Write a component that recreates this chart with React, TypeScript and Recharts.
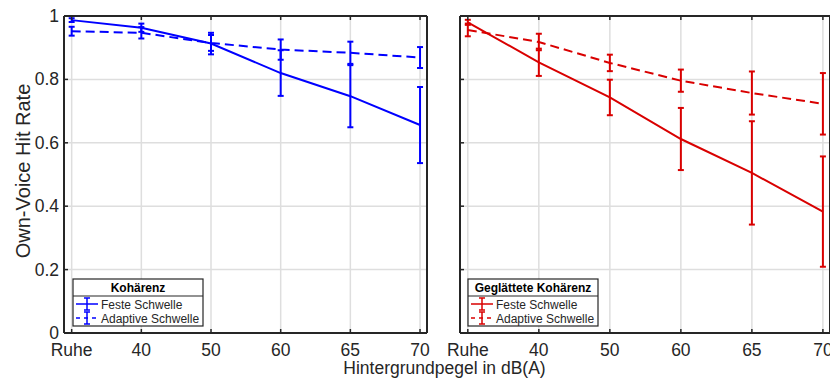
import { LineChart, Line, XAxis, YAxis, CartesianGrid, ErrorBar } from 'recharts';

// x categories and y ticks
const categories = ['Ruhe', '40', '50', '60', '65', '70'];
const yTicks = [0, 0.2, 0.4, 0.6, 0.8, 1];

// Kohärenz (left panel)
const kohFest = [0.987, 0.963, 0.913, 0.82, 0.747, 0.656];
const kohFestErr = [0.006, 0.013, 0.034, 0.072, 0.098, 0.12];
const kohAdapt = [0.952, 0.947, 0.915, 0.894, 0.884, 0.869];
const kohAdaptErr = [0.014, 0.018, 0.025, 0.032, 0.035, 0.033];

// Geglättete Kohärenz (right panel)
const glFest = [0.98, 0.854, 0.743, 0.612, 0.505, 0.383];
const glFestErr = [0.008, 0.043, 0.056, 0.098, 0.163, 0.174];
const glAdapt = [0.956, 0.918, 0.852, 0.796, 0.757, 0.723];
const glAdaptErr = [0.02, 0.026, 0.026, 0.035, 0.068, 0.097];

const seriesNames = ['Feste Schwelle', 'Adaptive Schwelle'];

const AXIS = '#262626';
const GRID = '#dedede';
const BLUE = '#0000ff';
const RED = '#d90000';
const FONT = '"Liberation Sans", Arial, Helvetica, sans-serif';
const X_DOMAIN = [-0.11, 5.1];

const kohData = categories.map((c, i) => ({
  x: i,
  fest: kohFest[i],
  festErr: kohFestErr[i],
  adapt: kohAdapt[i],
  adaptErr: kohAdaptErr[i],
}));

const glData = categories.map((c, i) => ({
  x: i,
  fest: glFest[i],
  festErr: glFestErr[i],
  adapt: glAdapt[i],
  adaptErr: glAdaptErr[i],
}));

function BottomTick(props: any) {
  const { x, y, payload } = props;
  return (
    <g>
      <line x1={x} y1={y} x2={x} y2={y - 4} stroke={AXIS} strokeWidth={1.5} />
      <text x={x} y={y + 22.5} textAnchor="middle" fontSize={17.5} fontFamily={FONT} fill={AXIS}>
        {categories[payload.value]}
      </text>
    </g>
  );
}

function TopTick(props: any) {
  const { x, y } = props;
  return <line x1={x} y1={y} x2={x} y2={y + 4} stroke={AXIS} strokeWidth={1.5} />;
}

function LeftTick(props: any) {
  const { x, y, payload, showLabel } = props;
  const v = payload.value;
  return (
    <g>
      <line x1={x} y1={y} x2={x + 4} y2={y} stroke={AXIS} strokeWidth={1.5} />
      {showLabel && (
        <text x={x - 5} y={y + 6} textAnchor="end" fontSize={17.5} fontFamily={FONT} fill={AXIS}>
          {String(v)}
        </text>
      )}
    </g>
  );
}

function RightTick(props: any) {
  const { x, y } = props;
  return <line x1={x} y1={y} x2={x - 4} y2={y} stroke={AXIS} strokeWidth={1.5} />;
}

function Panel({ data, color, width, yAxisWidth, right, showLabels }: any) {
  return (
    <LineChart
      width={width}
      height={382}
      data={data}
      margin={{ top: 6, right, bottom: 19, left: 0 }}
    >
      <CartesianGrid stroke={GRID} strokeWidth={1.5} />
      <XAxis
        dataKey="x"
        type="number"
        domain={X_DOMAIN}
        ticks={[0, 1, 2, 3, 4, 5]}
        height={30}
        tickSize={0}
        tickMargin={0}
        tickLine={false}
        axisLine={{ stroke: AXIS, strokeWidth: 2 }}
        tick={<BottomTick />}
        interval={0}
      />
      <XAxis
        xAxisId="top"
        orientation="top"
        dataKey="x"
        type="number"
        domain={X_DOMAIN}
        ticks={[0, 1, 2, 3, 4, 5]}
        height={10}
        tickSize={0}
        tickMargin={0}
        tickLine={false}
        axisLine={{ stroke: AXIS, strokeWidth: 2 }}
        tick={<TopTick />}
        interval={0}
      />
      <YAxis
        type="number"
        domain={[0, 1]}
        ticks={yTicks}
        width={yAxisWidth}
        tickSize={0}
        tickMargin={0}
        tickLine={false}
        axisLine={{ stroke: AXIS, strokeWidth: 2 }}
        tick={<LeftTick showLabel={showLabels} />}
        interval={0}
      />
      <YAxis
        yAxisId="r"
        orientation="right"
        type="number"
        domain={[0, 1]}
        ticks={yTicks}
        width={10}
        tickSize={0}
        tickMargin={0}
        tickLine={false}
        axisLine={{ stroke: AXIS, strokeWidth: 2 }}
        tick={<RightTick />}
        interval={0}
      />
      <Line
        dataKey="fest"
        stroke={color}
        strokeWidth={2}
        dot={false}
        isAnimationActive={false}
      >
        <ErrorBar dataKey="festErr" direction="y" width={3} stroke={color} strokeWidth={2} isAnimationActive={false} />
      </Line>
      <Line
        dataKey="adapt"
        stroke={color}
        strokeWidth={2}
        strokeDasharray="9 5"
        dot={false}
        isAnimationActive={false}
      >
        <ErrorBar dataKey="adaptErr" direction="y" width={3} stroke={color} strokeWidth={2} strokeDasharray="none" isAnimationActive={false} />
      </Line>
    </LineChart>
  );
}

function LegendBox({ x, y, title, color }: any) {
  const w = 130;
  const h = 47;
  const rows = [y + 25, y + 39];
  return (
    <g fontFamily={FONT}>
      <rect x={x} y={y} width={w} height={h} fill="#fff" stroke={AXIS} strokeWidth={1.2} />
      <line x1={x} x2={x + w} y1={y + 17} y2={y + 17} stroke={AXIS} strokeWidth={1.2} />
      <text x={x + w / 2} y={y + 12.5} textAnchor="middle" fontWeight="bold" fontSize={12} fill="#000">
        {title}
      </text>
      {seriesNames.map((name, i) => (
        <g key={name}>
          <line
            x1={x + 3}
            x2={x + 25}
            y1={rows[i]}
            y2={rows[i]}
            stroke={color}
            strokeWidth={1.5}
            strokeDasharray={i === 1 ? '4 4' : undefined}
          />
          <line x1={x + 14} x2={x + 14} y1={rows[i] - 6} y2={rows[i] + 6} stroke={color} strokeWidth={1.5} />
          <line x1={x + 11} x2={x + 17} y1={rows[i] - 6} y2={rows[i] - 6} stroke={color} strokeWidth={1.5} />
          <line x1={x + 11} x2={x + 17} y1={rows[i] + 6} y2={rows[i] + 6} stroke={color} strokeWidth={1.5} />
          <text x={x + 28} y={rows[i] + 4.5} fontSize={12} fill="#262626">
            {name}
          </text>
        </g>
      ))}
    </g>
  );
}

export default function App() {
  return (
    <div style={{ position: 'absolute', left: 0, top: 0, width: 830, height: 382, background: '#fff', overflow: 'hidden' }}>
      <div style={{ position: 'absolute', left: 0, top: 0 }}>
        <Panel data={kohData} color={BLUE} width={440} yAxisWidth={64} right={3} showLabels={true} />
      </div>
      <div style={{ position: 'absolute', left: 440, top: 0 }}>
        <Panel data={glData} color={RED} width={400} yAxisWidth={20} right={0} showLabels={false} />
      </div>
      <svg width={830} height={382} style={{ position: 'absolute', left: 0, top: 0, pointerEvents: 'none' }}>
        <text
          x={29.5}
          y={171}
          transform="rotate(-90, 29.5, 171)"
          textAnchor="middle"
          fontSize={20}
          fontFamily={FONT}
          fill={AXIS}
        >
          Own-Voice Hit Rate
        </text>
        <text x={444.5} y={374} textAnchor="middle" fontSize={17.5} fontFamily={FONT} fill={AXIS}>
          Hintergrundpegel in dB(A)
        </text>
        <LegendBox x={73} y={279} title="Kohärenz" color={BLUE} />
        <LegendBox x={468} y={279} title="Geglättete Kohärenz" color={RED} />
      </svg>
    </div>
  );
}
